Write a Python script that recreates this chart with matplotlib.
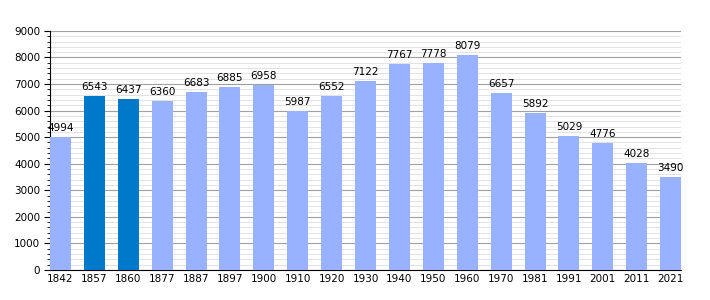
import matplotlib.pyplot as plt
from matplotlib.ticker import MultipleLocator

years = ['1842', '1857', '1860', '1877', '1887', '1897', '1900', '1910', '1920', '1930',
         '1940', '1950', '1960', '1970', '1981', '1991', '2001', '2011', '2021']
population = [4994, 6543, 6437, 6360, 6683, 6885, 6958, 5987, 6552, 7122,
              7767, 7778, 8079, 6657, 5892, 5029, 4776, 4028, 3490]
highlight = ['1857', '1860']

fig = plt.figure(figsize=(7.1, 3.0), dpi=100)
ax = fig.add_axes([0.0704, 0.1, 0.889, 0.797])

colors = ['#0079CB' if y in highlight else '#99B2FF' for y in years]
x = range(len(years))
ax.bar(x, population, width=0.62, color=colors, zorder=3)

for i, v in enumerate(population):
    ax.text(i, v + 150, str(v), ha='center', va='bottom', fontsize=7.5, zorder=4)

ax.set_xlim(-0.31, len(years) - 1 + 0.31)
ax.set_ylim(0, 9000)
ax.set_xticks(list(x))
ax.set_xticklabels(years)
ax.yaxis.set_major_locator(MultipleLocator(1000))
ax.yaxis.set_minor_locator(MultipleLocator(200))
ax.grid(which='major', axis='y', color='#A0A0A0', linewidth=0.8, zorder=0)
ax.grid(which='minor', axis='y', color='#DDDDDD', linewidth=0.6, zorder=0)
ax.tick_params(axis='both', labelsize=7.5)
ax.tick_params(axis='x', length=0, pad=3)
ax.tick_params(axis='y', which='major', length=4, direction='out', pad=3)
ax.tick_params(axis='y', which='minor', length=2, direction='out')
for s in ['top', 'right']:
    ax.spines[s].set_visible(False)

fig.savefig('out.png', dpi=100)
